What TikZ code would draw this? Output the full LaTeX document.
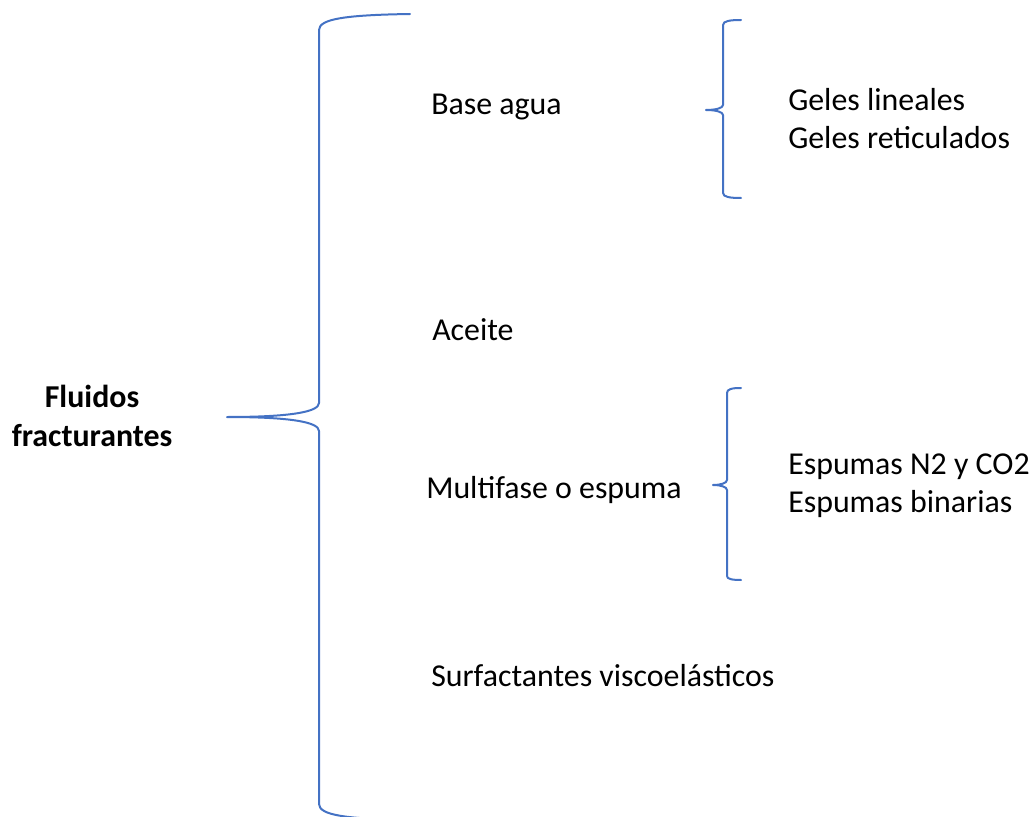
\documentclass[tikz,border=0pt]{standalone}
\usepackage{fontspec}
\setmainfont{Carlito}
\usetikzlibrary{positioning}

\begin{document}
\begin{tikzpicture}[x=0.75pt, y=-0.75pt]
    % Colors & styles
    \definecolor{braceCol}{HTML}{4472C4}
    \tikzset{
        lbl/.style={inner sep=0pt, anchor=base west, align=left, font=\fontsize{23.9}{28.2}\selectfont},
        brc/.style={braceCol, line width=1.5pt, line cap=round, line join=round},
    }
    \useasboundingbox (0,0) rectangle (1033,817);

    % 1. Root label (base anchor = last line)
    \node[lbl, anchor=base, align=center, font=\fontsize{23.9}{29}\selectfont\bfseries] (root) at (92,446) {Fluidos\\fracturantes};

    % 2. Main classes
    \node[lbl] (base) at (431,115) {Base agua};
    \node[lbl] (aceite) at (432,340) {Aceite};
    \node[lbl] (multi) at (426,498) {Multifase o espuma};
    \node[lbl] (surf) at (431,686) {Surfactantes viscoelásticos};

    % 3. Sub classes
    \node[lbl] (geles) at (788,148) {Geles lineales\\Geles reticulados};
    \node[lbl] (espumas) at (788,512) {Espumas N2 y CO2\\Espumas binarias};

    % 4. Braces
    \coordinate (rootTip) at (227,417);
    \coordinate (baseTip) at (706,110);
    \coordinate (multiTip) at (713,485);

    \draw[brc] (410,14) .. controls (345,15) and (319,19) .. (319,30) -- (319,403)
        .. controls (319,412) and (290,417) .. (rootTip)
        .. controls (290,417) and (319,422) .. (319,431) -- (319,804)
        .. controls (319,815) and (345,819) .. (410,820);

    \draw[brc] (741,20) .. controls (730,20) and (723,21) .. (723,25) -- (723,105)
        .. controls (723,108) and (716,110) .. (baseTip)
        .. controls (716,110) and (723,112) .. (723,115) -- (723,193)
        .. controls (723,197) and (730,198) .. (741,198);

    \draw[brc] (741,388) .. controls (732,388) and (727,389) .. (727,393) -- (727,480)
        .. controls (727,483) and (721,485) .. (multiTip)
        .. controls (721,485) and (727,487) .. (727,490) -- (727,576)
        .. controls (727,579) and (732,580) .. (741,580);
\end{tikzpicture}
\end{document}
